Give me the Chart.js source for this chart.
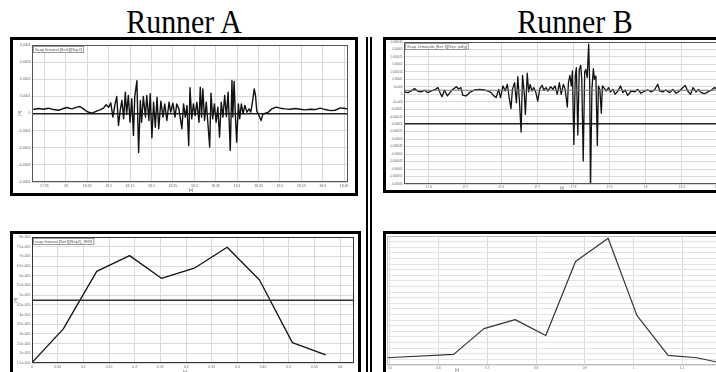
<!DOCTYPE html>
<html>
<head>
<meta charset="utf-8">
<script src="https://cdn.jsdelivr.net/npm/chart.js@4"></script>
<style>
html, body { margin: 0; padding: 0; background: #fff; overflow: hidden; width: 716px; height: 372px; }
.title { position: absolute; top: 5px; width: 240px; text-align: center; font-family: "Liberation Serif", "Times New Roman", serif; font-size: 34px; line-height: 34px; color: #000; transform: scaleX(0.88); }
.panel { position: absolute; border: 3px solid #000; box-sizing: border-box; background: #fff; }
.panel canvas { display: block; }
.sep { position: absolute; top: 37px; height: 340px; width: 1.5px; background: #000; }
</style>
</head>
<body>
<div class="title" style="left:64px">Runner A</div>
<div class="title" style="left:455px">Runner B</div>
<div class="sep" style="left:366px"></div>
<div class="sep" style="left:370px"></div>

<div class="panel" style="left:10px;top:37px;width:348px;height:159px"><canvas id="chartA" width="342" height="153"></canvas></div>
<div class="panel" style="left:383px;top:37px;width:400px;height:156px"><canvas id="chartB" width="394" height="150"></canvas></div>
<div class="panel" style="left:10px;top:231px;width:351px;height:165px"><canvas id="chartC" width="345" height="159"></canvas></div>
<div class="panel" style="left:383px;top:231px;width:400px;height:165px"><canvas id="chartD" width="394" height="159"></canvas></div>

<script>
// Runner A raw EMG, [time s, amplitude in 1e-4 V]
const emgA = [
  [17.924,0.23],[17.936,0.29],[17.948,0.25],[17.959,0.31],[17.971,0.23],[17.983,0.19],[17.994,0.29],[18.002,0.35],
  [18.014,0.27],[18.026,0.37],[18.033,0.41],[18.041,0.27],[18.050,0.10],[18.061,0.02],[18.072,0.14],[18.080,0.21],
  [18.088,0.31],[18.094,0.51],[18.100,0.37],[18.105,0.62],[18.110,-0.21],[18.115,0.56],[18.119,0.99],[18.123,-0.70],
  [18.127,0.18],[18.131,0.76],[18.135,-0.31],[18.139,1.25],[18.142,-0.06],[18.146,1.05],[18.150,-0.51],[18.154,0.86],
  [18.158,-1.28],[18.161,0.99],[18.166,1.91],[18.170,-2.28],[18.174,0.76],[18.177,-0.51],[18.181,0.99],[18.186,-0.21],
  [18.189,1.05],[18.194,-0.41],[18.197,1.15],[18.201,-1.42],[18.205,0.66],[18.209,-0.80],[18.213,0.95],[18.217,-0.89],
  [18.222,0.72],[18.227,-0.21],[18.231,0.56],[18.236,-0.41],[18.241,0.66],[18.245,0.08],[18.250,0.60],[18.255,-0.21],
  [18.259,0.56],[18.264,0.27],[18.267,-0.21],[18.271,-0.89],[18.275,0.56],[18.279,-0.21],[18.283,0.47],[18.287,-1.87],
  [18.290,1.50],[18.294,-0.31],[18.298,0.56],[18.302,-0.12],[18.306,0.66],[18.311,-0.51],[18.314,1.54],[18.317,-0.21],
  [18.320,1.44],[18.324,-0.41],[18.328,0.66],[18.332,-0.64],[18.336,-1.96],[18.339,1.19],[18.343,-0.31],[18.347,0.56],
  [18.351,-0.51],[18.355,0.37],[18.359,-1.38],[18.363,0.66],[18.367,-0.21],[18.371,1.05],[18.375,-0.18],[18.379,1.25],
  [18.384,-2.16],[18.388,1.93],[18.390,-0.21],[18.393,1.87],[18.396,-0.12],[18.399,-1.67],[18.403,0.56],[18.406,-0.31],
  [18.410,0.56],[18.414,-0.02],[18.418,0.47],[18.423,0.08],[18.428,0.27],[18.432,0.08],[18.437,0.86],[18.440,1.44],
  [18.443,1.05],[18.446,0.14],[18.450,-0.06],[18.456,-0.41],[18.460,-0.06],[18.466,0.02],[18.473,0.08],[18.481,0.27],
  [18.491,0.37],[18.501,0.31],[18.512,0.27],[18.524,0.25],[18.536,0.29],[18.547,0.25],[18.559,0.21],[18.571,0.25],
  [18.583,0.23],[18.594,0.31],[18.606,0.23],[18.618,0.17],[18.629,0.19],[18.641,0.33],[18.653,0.29],[18.660,0.25]
];
const xTicksA = [17.95, 18, 18.05, 18.1, 18.15, 18.2, 18.25, 18.3, 18.35, 18.4, 18.45, 18.5, 18.55, 18.6, 18.65];
const xLabelsA = ['17.95', '18', '18.05', '18.1', '18.15', '18.2', '18.25', '18.3', '18.35', '18.4', '18.45', '18.5', '18.55', '18.6', '18.65'];
const yTicksA = [-4, -3, -2, -1, 0, 1, 2, 3, 4];
const yLabelsA = ['-0.0004', '-0.0003', '-0.0002', '-0.0001', '0', '0.0001', '0.0002', '0.0003', '0.0004'];

// Runner B raw EMG, [time s, amplitude in 1e-6 V]
const emgB = [
  [17.333,1.6],[17.342,1.1],[17.351,2.2],[17.360,3.8],[17.370,2.0],[17.379,1.6],[17.388,2.7],[17.397,1.1],
  [17.406,2.2],[17.418,3.3],[17.425,4.5],[17.430,1.6],[17.436,-1.6],[17.443,2.7],[17.451,-1.1],[17.458,1.1],
  [17.466,3.3],[17.476,5.1],[17.482,3.6],[17.488,4.5],[17.494,-0.7],[17.503,-1.1],[17.512,1.1],[17.526,2.9],
  [17.540,3.3],[17.554,2.9],[17.563,2.2],[17.572,1.1],[17.580,-1.1],[17.586,-2.2],[17.593,3.3],[17.598,-2.2],
  [17.605,5.6],[17.611,2.2],[17.617,6.7],[17.622,-2.2],[17.627,-9.6],[17.631,3.3],[17.637,7.8],[17.642,-5.6],
  [17.646,11.8],[17.651,-6.7],[17.655,-25.2],[17.659,12.7],[17.664,0],[17.667,-13.4],[17.672,14.1],[17.676,1.6],
  [17.680,6.7],[17.685,2.2],[17.690,4.5],[17.696,1.1],[17.701,-4.5],[17.707,3.8],[17.713,6.0],[17.718,2.9],
  [17.724,4.5],[17.729,2.2],[17.737,5.1],[17.743,3.3],[17.749,5.6],[17.755,0],[17.761,7.8],[17.766,0],
  [17.772,6.7],[17.777,3.3],[17.783,-8.5],[17.786,7.8],[17.790,12.7],[17.794,5.6],[17.797,15.6],[17.801,-33.5],
  [17.805,12.3],[17.808,17.9],[17.812,-27.2],[17.816,16.7],[17.820,19.4],[17.823,10.0],[17.827,-44.6],[17.831,15.0],
  [17.834,16.7],[17.838,11.2],[17.842,33.5],[17.845,5.6],[17.847,-65.8],[17.851,3.3],[17.855,17.2],[17.858,10.0],
  [17.862,12.3],[17.866,-34.2],[17.869,5.6],[17.873,3.3],[17.877,-12.7],[17.880,5.6],[17.886,3.8],[17.891,2.2],
  [17.897,4.5],[17.902,1.6],[17.909,3.3],[17.915,0],[17.923,2.2],[17.930,5.6],[17.937,1.1],[17.943,2.9],
  [17.950,-0.7],[17.960,2.2],[17.969,1.6],[17.978,3.3],[17.987,0.7],[17.997,2.2],[18.006,2.9],[18.015,1.6],
  [18.024,2.9],[18.033,6.7],[18.039,2.2],[18.047,1.6],[18.056,2.9],[18.066,1.1],[18.075,3.3],[18.084,0.7],
  [18.093,2.2],[18.103,4.5],[18.109,6.0],[18.116,2.2],[18.124,0],[18.131,4.5],[18.139,1.6],[18.146,3.3],
  [18.153,1.1],[18.162,0.4],[18.172,1.6],[18.181,2.7],[18.190,4.5],[18.204,2.2],[18.218,3.3]
];
const meanB = 2.7;
const xTicksB = [17.4, 17.5, 17.6, 17.7, 17.8, 17.9, 18, 18.1, 18.2, 18.3];
const xLabelsB = ['17.4', '17.5', '17.6', '17.7', '17.8', '17.9', '18', '18.1', '18.2', '18.3'];
const yTicksB = [-60, -55, -50, -45, -40, -35, -30, -25, -20, -15, -10, -5, 0, 5, 10, 15, 20, 25, 30, 35];
const yLabelsB = ['-0.00006', '-0.000055', '-0.00005', '-0.000045', '-0.00004', '-0.000035', '-0.00003', '-0.000025',
  '-0.00002', '-0.000015', '-0.00001', '-5e-006', '0', '5e-006', '0.00001', '0.000015', '0.00002', '0.000025', '0.00003', '0.000035'];

// Runner A RMS per window, [time s, RMS in 1e-5 V]
const rmsA = [[0, 1.52], [0.061, 3.26], [0.126, 6.23], [0.190, 7.04], [0.252, 5.87],
  [0.316, 6.39], [0.380, 7.47], [0.443, 5.78], [0.507, 2.55], [0.572, 1.92]];
const meanRmsA = 4.74;
const xTicksC = [0, 0.05, 0.1, 0.15, 0.2, 0.25, 0.3, 0.35, 0.4, 0.45, 0.5, 0.55, 0.6];
const xLabelsC = ['0', '0.05', '0.1', '0.15', '0.2', '0.25', '0.3', '0.35', '0.4', '0.45', '0.5', '0.55', '0.6'];
const yTicksC = [1.5, 2, 2.5, 3, 3.5, 4, 4.5, 5, 5.5, 6, 6.5, 7, 7.5, 8];
const yLabelsC = ['1.5e-005', '2e-005', '2.5e-005', '3e-005', '3.5e-005', '4e-005', '4.5e-005',
  '5e-005', '5.5e-005', '6e-005', '6.5e-005', '7e-005', '7.5e-005', '8e-005'];

// Runner B RMS per window, [time s, RMS in 1e-6 V]
const rmsB = [[0.493, 1.29], [0.631, 1.89], [0.693, 6.49], [0.757, 8.09], [0.820, 5.25], [0.881, 18.45],
  [0.948, 22.6], [1.007, 8.85], [1.071, 1.72], [1.130, 1.29], [1.190, 0.18]];
const xTicksD = [0.5, 0.6, 0.7, 0.8, 0.9, 1, 1.1, 1.2];
const xLabelsD = ['0.5', '0.6', '0.7', '0.8', '0.9', '1', '1.1', '1.2'];

const FONT = 'Liberation Sans';

// plot frame, legend box and axis titles
const panelDecor = {
  id: 'panelDecor',
  afterDraw(chart, args, opts) {
    const { ctx, chartArea: a } = chart;
    ctx.save();
    ctx.strokeStyle = opts.frame || '#555';
    ctx.lineWidth = 1;
    ctx.strokeRect(Math.round(a.left) + 0.5, Math.round(a.top) + 0.5,
      Math.round(a.right - a.left) - 1, Math.round(a.bottom - a.top) - 1);
    if (opts.legend) {
      ctx.font = '4px ' + FONT;
      const w = ctx.measureText(opts.legend).width + 3;
      ctx.fillStyle = '#fff';
      ctx.fillRect(a.left + 1, a.top + 1, w, 6);
      ctx.strokeStyle = '#999';
      ctx.strokeRect(a.left + 1.5, a.top + 1.5, w, 6);
      ctx.fillStyle = '#555';
      ctx.textBaseline = 'middle';
      ctx.fillText(opts.legend, a.left + 3, a.top + 4.5);
    }
    (opts.notes || []).forEach(n => {
      ctx.save();
      ctx.font = (n.size || 5) + 'px ' + FONT;
      ctx.fillStyle = '#444';
      ctx.textAlign = 'center';
      ctx.textBaseline = 'middle';
      ctx.translate(n.x, n.y);
      if (n.rot) ctx.rotate(n.rot);
      ctx.fillText(n.text, 0, 0);
      ctx.restore();
    });
    ctx.restore();
  }
};

function axis(o) {
  const isDark = c => o.dark !== undefined && c.tick && c.tick.value === o.dark;
  return {
    type: 'linear',
    min: o.min,
    max: o.max,
    afterBuildTicks: o.ticks ? s => { s.ticks = o.ticks.map(v => ({ value: v })); } : undefined,
    afterFit: s => {
      if (s.isHorizontal()) s.height = o.size; else s.width = o.size;
      s.paddingLeft = s.paddingRight = s.paddingTop = s.paddingBottom = 0;
    },
    ticks: {
      display: !!o.labels,
      stepSize: o.step,
      autoSkip: false,
      maxRotation: 0,
      padding: 1.5,
      color: '#666',
      font: { family: FONT, size: o.font || 3.5 },
      callback: (v, i) => (o.labels ? o.labels[i] : '')
    },
    grid: {
      drawTicks: false,
      color: c => (isDark(c) ? '#222' : (o.grid || '#dadada')),
      lineWidth: c => (isDark(c) ? 1.5 : 1)
    },
    border: { display: false }
  };
}

function trace(points, color, width) {
  return {
    data: points.map(p => ({ x: p[0], y: p[1] })),
    borderColor: color,
    borderWidth: width,
    borderJoinStyle: 'round',
    pointRadius: 0,
    tension: 0,
    fill: false
  };
}

function level(value, x0, x1, color, width) {
  return trace([[x0, value], [x1, value]], color, width);
}

function makeChart(id, datasets, scales, padding, decor) {
  return new Chart(document.getElementById(id), {
    type: 'line',
    data: { datasets },
    options: {
      responsive: false,
      animation: false,
      events: [],
      layout: { padding },
      scales,
      plugins: { legend: { display: false }, tooltip: { enabled: false }, panelDecor: decor }
    },
    plugins: [panelDecor]
  });
}

makeChart('chartA',
  [trace(emgA, '#111', 1.4)],
  {
    x: axis({ min: 17.921, max: 18.659, ticks: xTicksA, labels: xLabelsA, size: 11 }),
    y: axis({ min: -4, max: 4, ticks: yTicksA, labels: yLabelsA, size: 19, dark: 0 })
  },
  { left: 0, top: 5, right: 7, bottom: 0 },
  { legend: 'Scap femoral.[Set1][Rep2]', notes: [
    { text: '[V]', x: 7, y: 73, rot: -Math.PI / 2, size: 4 },
    { text: '[s]', x: 178, y: 150, size: 4 }
  ] });

makeChart('chartB',
  [level(meanB, 17.2, 18.4, '#777', 1), trace(emgB, '#111', 1.3)],
  {
    x: axis({ min: 17.331, max: 18.33, ticks: xTicksB, labels: xLabelsB, size: 6, font: 3 }),
    y: axis({ min: -60, max: 35, ticks: yTicksB, labels: yLabelsB, size: 18, dark: -20, font: 2.8 })
  },
  { left: 0, top: 2, right: 15, bottom: 0 },
  { legend: 'Scap. femoralis [Set 1][Rep. pdfg]', notes: [
    { text: ':', x: 1, y: 73, size: 5 },
    { text: '[s]', x: 176, y: 148, size: 3.5 }
  ] });

makeChart('chartC',
  [level(meanRmsA, 0, 0.627, '#333', 1.5), trace(rmsA, '#111', 1.3)],
  {
    x: axis({ min: 0, max: 0.627, ticks: xTicksC, labels: xLabelsC, size: 30 }),
    y: axis({ min: 1.5, max: 8, ticks: yTicksC, labels: yLabelsC, size: 19 })
  },
  { left: 0, top: 3, right: 4, bottom: 0 },
  { frame: '#333', legend: 'scap femoral.[Set1][Rep2]_RMS', notes: [
    { text: '[V]', x: 3, y: 66, rot: -Math.PI / 2, size: 4 },
    { text: '[s]', x: 172, y: 138, size: 4 }
  ] });

makeChart('chartD',
  [trace(rmsB, '#333', 1.2)],
  {
    x: axis({ min: 0.494, max: 1.27, ticks: xTicksD, labels: xLabelsD, size: 28, font: 3 }),
    y: axis({ min: 0, max: 23, step: 1, size: 1, grid: '#e4e4e4' })
  },
  { left: 0, top: 2, right: 15, bottom: 0 },
  { frame: '#bbb', notes: [
    { text: '[s]', x: 71, y: 136, size: 3.5 }
  ] });
</script>
</body>
</html>
